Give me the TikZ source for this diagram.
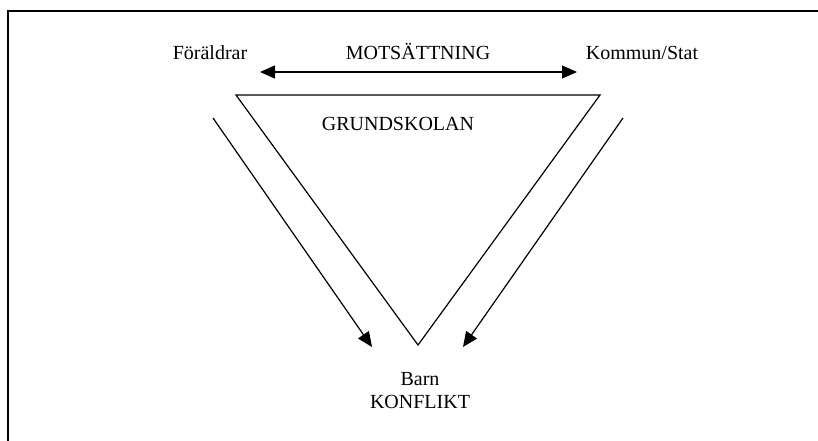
\documentclass[tikz,border=0pt]{standalone}
\usepackage{fontspec}
\setmainfont{Liberation Serif}
\usetikzlibrary{arrows.meta}
\begin{document}
\begin{tikzpicture}[x=1pt,y=-1pt, line width=1.2pt,
        >={Triangle[length=15pt,width=13pt]},
        every node/.style={font=\fontsize{20}{23}\selectfont, inner sep=0pt, anchor=base}]
        \useasboundingbox (0,0) rectangle (818,441);
        % frame
        \draw [line width=2pt] (8,441) -- (8,11) -- (818,11);
        % labels
        \node (parents) at (210,60) {Föräldrar};
        \node (contrast) at (418,60) {MOTSÄTTNING};
        \node (state) at (642,60) {Kommun/Stat};
        \node (school) at (398,130) {GRUNDSKOLAN};
        \node (child) at (420,408) [align=center, anchor=base] {Barn\\KONFLIKT};
        % triangle
        \coordinate (tl) at (236,95);
        \coordinate (tr) at (600,95);
        \coordinate (bt) at (418,345);
        \draw (tl) -- (tr) -- (bt) -- cycle;
        % arrows
        \coordinate (a1) at (260,72);
        \coordinate (a2) at (577,72);
        \draw [<->] (a1) -- (a2);
        \coordinate (l1) at (213,118);
        \coordinate (l2) at (372,347);
        \draw [->] (l1) -- (l2);
        \coordinate (r1) at (623,118);
        \coordinate (r2) at (463,347);
        \draw [->] (r1) -- (r2);
\end{tikzpicture}
\end{document}
